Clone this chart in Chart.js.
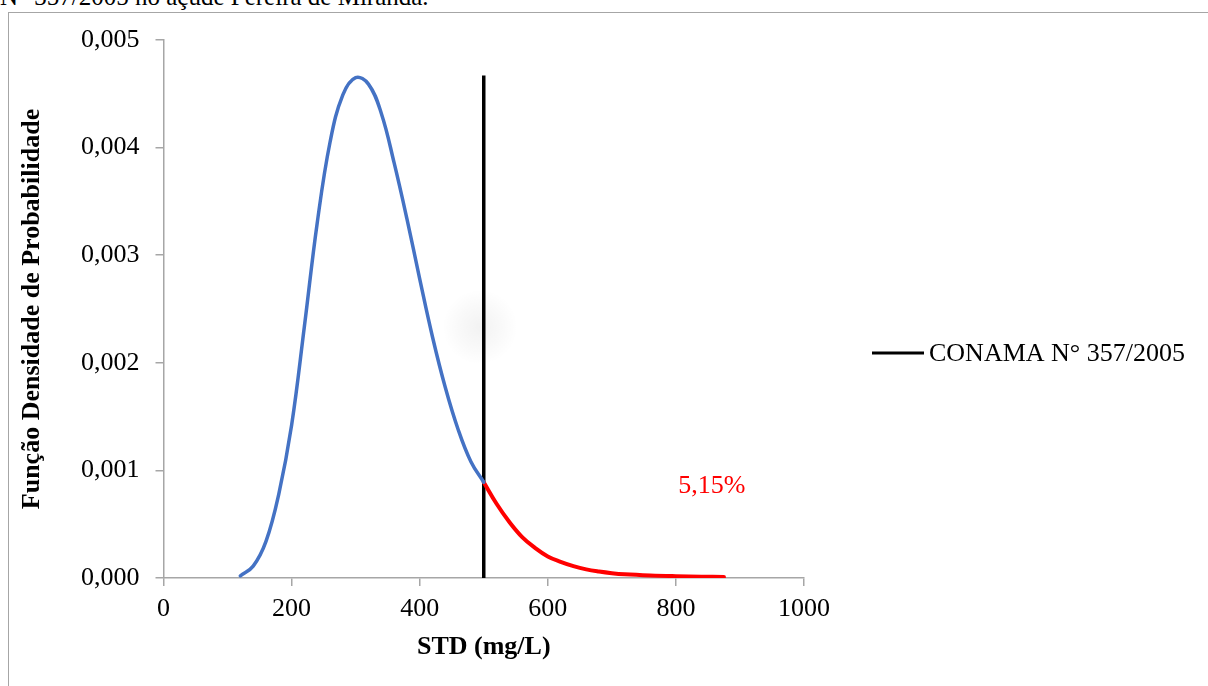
<!DOCTYPE html>
<html lang="pt-BR">
<head>
<meta charset="utf-8">
<title>Função Densidade de Probabilidade - STD</title>
<script src="https://cdn.jsdelivr.net/npm/chart.js@4.4.1/dist/chart.umd.min.js"></script>
<style>
  html, body { margin: 0; padding: 0; background: #fff; width: 1208px; height: 686px; overflow: hidden; }
  /* caption line of the figure, partly cut at the top of the page */
  #caption { position: absolute; left: 0; top: -17px; font: 25px "Liberation Serif", "Times New Roman", serif; color: #000; white-space: nowrap; }
  /* chart frame */
  #frame { position: absolute; left: 8px; top: 12px; width: 1400px; height: 900px; border: 1px solid #a6a6a6; }
  #haze { position: absolute; left: 442px; top: 289px; width: 76px; height: 76px; border-radius: 50%;
          background: radial-gradient(circle, rgba(0,0,0,0.05) 0%, rgba(0,0,0,0.025) 40%, rgba(0,0,0,0) 70%); }
  #pdfChart { position: absolute; left: 0; top: 0; }
</style>
</head>
<body>
<div id="caption">N° 357/2005 no açude Pereira de Miranda.</div>
<div id="frame"></div>
<div id="haze"></div>
<canvas id="pdfChart" width="1208" height="686"></canvas>

<script>
// --- Data ---
// Probability density of STD below the CONAMA limit (blue part of the curve)
const stdBelow = [120, 140, 160, 180, 200, 220, 240, 260, 280, 300, 320, 340, 360, 380, 400, 420, 440, 460, 480, 500];
const pdfBelow = [0.00002, 0.00011, 0.00034, 0.00078, 0.00142, 0.00234, 0.00330, 0.00405, 0.00449, 0.00465,
                  0.00459, 0.00432, 0.00386, 0.00334, 0.00278, 0.00224, 0.00177, 0.00138, 0.00108, 0.00089];

// Density above the limit (red tail)
const stdAbove = [500, 520, 540, 560, 580, 600, 620, 640, 660, 680, 700, 720, 760, 800, 840, 875];
const pdfAbove = [0.00089, 0.00069, 0.00052, 0.00038, 0.00028, 0.00020, 0.00015, 0.00011, 0.00008, 0.00006,
                  0.000045, 0.000035, 0.000024, 0.000017, 0.000012, 0.00001];

// CONAMA N° 357/2005 limit for STD (mg/L), drawn as a vertical line
const limitX = [500, 500];
const limitY = [0, 0.00467];

// Axis ticks
const xTicks = [0, 200, 400, 600, 800, 1000];
const yTicks = [0, 0.001, 0.002, 0.003, 0.004, 0.005];

// Exceedance percentage written next to the tail
const tailText = '5,15%';
const tailTextX = 856;
const tailTextY = 0.00085;

const serif = '"Liberation Serif", "Times New Roman", serif';

function toPoints(xs, ys) {
  return xs.map((x, i) => ({ x: x, y: ys[i] }));
}

// Text label for the tail, placed with the chart scales
const tailLabelPlugin = {
  id: 'tailLabel',
  afterDatasetsDraw(chart) {
    const { ctx, scales } = chart;
    ctx.save();
    ctx.font = '26px ' + serif;
    ctx.fillStyle = '#ff0000';
    ctx.textAlign = 'center';
    ctx.textBaseline = 'middle';
    ctx.fillText(tailText, scales.x.getPixelForValue(tailTextX), scales.y.getPixelForValue(tailTextY));
    ctx.restore();
  }
};

// Single-entry legend on the right side (only the limit line is listed)
const sideLegendPlugin = {
  id: 'sideLegend',
  afterDraw(chart) {
    const ds = chart.data.datasets.find(d => d.inLegend);
    if (!ds) return;
    const { ctx, chartArea } = chart;
    const x0 = chartArea.right + 68;
    const y0 = 353;
    ctx.save();
    ctx.strokeStyle = ds.borderColor;
    ctx.lineWidth = 3;
    ctx.beginPath();
    ctx.moveTo(x0, y0);
    ctx.lineTo(x0 + 52, y0);
    ctx.stroke();
    ctx.font = '26px ' + serif;
    ctx.fillStyle = '#000';
    ctx.textAlign = 'left';
    ctx.textBaseline = 'middle';
    ctx.fillText(ds.label, x0 + 57, y0 + 1);
    ctx.restore();
  }
};

const axisGray = '#a6a6a6';
const commaFmt = v => v.toFixed(3).replace('.', ',');

const ctx = document.getElementById('pdfChart').getContext('2d');
new Chart(ctx, {
  type: 'scatter',
  data: {
    datasets: [
      {
        label: 'FDP',
        data: toPoints(stdBelow, pdfBelow),
        showLine: true,
        borderColor: '#4472c4',
        borderWidth: 3.5,
        pointRadius: 0,
        tension: 0.4,
        borderCapStyle: 'round'
      },
      {
        label: 'Excedência',
        data: toPoints(stdAbove, pdfAbove),
        showLine: true,
        borderColor: '#ff0000',
        borderWidth: 4,
        pointRadius: 0,
        tension: 0.4,
        borderCapStyle: 'round'
      },
      {
        label: 'CONAMA N° 357/2005',
        inLegend: true,
        data: toPoints(limitX, limitY),
        showLine: true,
        borderColor: '#000000',
        borderWidth: 3.5,
        pointRadius: 0
      }
    ]
  },
  options: {
    responsive: false,
    animation: false,
    layout: { padding: { left: 13, top: 40, right: 404, bottom: 19 } },
    plugins: {
      legend: { display: false },
      tooltip: { enabled: false }
    },
    scales: {
      x: {
        type: 'linear',
        min: 0,
        max: 1000,
        afterBuildTicks: scale => { scale.ticks = xTicks.map(v => ({ value: v })); },
        afterFit: scale => { scale.height = 89; },
        border: { color: axisGray, width: 1.5 },
        grid: { drawOnChartArea: false, drawTicks: true, tickLength: 8, color: axisGray, lineWidth: 1.5 },
        ticks: { color: '#000', font: { family: serif, size: 26 }, padding: 8, maxRotation: 0, callback: v => String(v) },
        title: {
          display: true,
          text: 'STD (mg/L)',
          color: '#000',
          font: { family: serif, size: 26, weight: 'bold' },
          padding: { top: 4, bottom: 4 }
        }
      },
      y: {
        type: 'linear',
        min: 0,
        max: 0.005,
        afterBuildTicks: scale => { scale.ticks = yTicks.map(v => ({ value: v })); },
        afterFit: scale => { scale.width = 150.5; },
        border: { color: axisGray, width: 1.5 },
        grid: { drawOnChartArea: false, drawTicks: true, tickLength: 8, color: axisGray, lineWidth: 1.5 },
        ticks: { color: '#000', font: { family: serif, size: 26 }, padding: 16, callback: commaFmt },
        title: {
          display: true,
          text: 'Função Densidade de Probabilidade',
          color: '#000',
          font: { family: serif, size: 26, weight: 'bold' },
          padding: { top: 4, bottom: 4 }
        }
      }
    }
  },
  plugins: [tailLabelPlugin, sideLegendPlugin]
});
</script>
</body>
</html>
